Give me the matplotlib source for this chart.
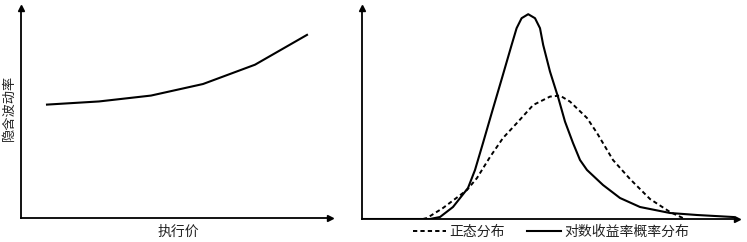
import matplotlib
matplotlib.use("Agg")
import matplotlib.pyplot as plt

plt.rcParams['font.family'] = ['Noto Sans CJK SC', 'DejaVu Sans']

# left panel: implied vol vs strike (volatility skew)
strikes = [1, 2, 3, 4, 5, 6]
implied_vol = [0.54, 0.555, 0.583, 0.638, 0.73, 0.872]

# right panel: log-return distribution vs normal
ret_x = [-9.8, -6.4, -5.9, -5.25, -4.5, -4.15, -3.75, -3.3, -2.8, -2.32, -2.07,
         -1.82, -1.49, -1.15, -0.9, -0.74, -0.4, 0.02, 0.35, 0.75, 1.1, 1.45,
         2.25, 3.1, 4.1, 5.6, 6.95, 8.75]
ret_pdf = [0.0, 0.0, 0.01, 0.06, 0.155, 0.245, 0.38, 0.535, 0.705, 0.87, 0.954,
           1.004, 1.024, 1.004, 0.954, 0.87, 0.737, 0.604, 0.487, 0.38, 0.295, 0.245,
           0.17, 0.105, 0.06, 0.03, 0.02, 0.01]

norm_x = [-6.75, -6.55, -5.75, -4.55, -4.05, -3.4, -2.75, -1.99, -1.24, -0.4,
          0.1, 0.6, 1.45, 1.95, 2.75, 3.6, 4.1, 4.6, 5.6, 6.35]
norm_pdf = [0.0, 0.005, 0.055, 0.145, 0.205, 0.31, 0.405, 0.487, 0.57, 0.612,
            0.617, 0.587, 0.505, 0.43, 0.295, 0.2, 0.15, 0.1, 0.035, 0.0]

W, H = 747, 242
fig = plt.figure(figsize=(W / 100, H / 100), dpi=100)
txt_color = '#222222'


def bare_axes(ax):
    """only left/bottom spines with arrow heads, no ticks"""
    for s in ['top', 'right']:
        ax.spines[s].set_visible(False)
    for s in ['left', 'bottom']:
        ax.spines[s].set_linewidth(1.3)
    ax.set_xticks([])
    ax.set_yticks([])
    ax.plot(1, 0, '>k', ms=5, transform=ax.transAxes, clip_on=False)
    ax.plot(0, 1, '^k', ms=5, transform=ax.transAxes, clip_on=False)


# left
ax1 = fig.add_axes([21 / W, (H - 218) / H, (330 - 21) / W, (218 - 8) / H])
bare_axes(ax1)
ax1.plot(strikes, implied_vol, color='black', lw=1.5)
ax1.set_xlim(0.5, 0.5 + 309 / 52)
ax1.set_ylim(0, 1)
ax1.set_xlabel('执行价', fontsize=10, color=txt_color)
ax1.set_ylabel('隐含波动率', fontsize=9.5, color=txt_color)
ax1.xaxis.set_label_coords(0.508, -0.035)
ax1.yaxis.set_label_coords(-0.017, 0.524)

# right
ax2 = fig.add_axes([362 / W, (H - 219) / H, (737 - 362) / W, (219 - 8) / H])
bare_axes(ax2)
ax2.plot(norm_x, norm_pdf, color='black', lw=1.4, linestyle=(0, (2.2, 1.6)),
         label='正态分布')
ax2.plot(ret_x, ret_pdf, color='black', lw=1.5, label='对数收益率概率分布')
ax2.set_xlim(-9.8, 8.95)
ax2.set_ylim(0, 211 / 200)

fig.legend(loc='center', bbox_to_anchor=(551 / W, (H - 232) / H), ncol=2,
           frameon=False, fontsize=10, handlelength=2.4, handletextpad=0.25,
           columnspacing=1.6, labelcolor=txt_color, borderpad=0)

fig.savefig('out.png', dpi=100)
